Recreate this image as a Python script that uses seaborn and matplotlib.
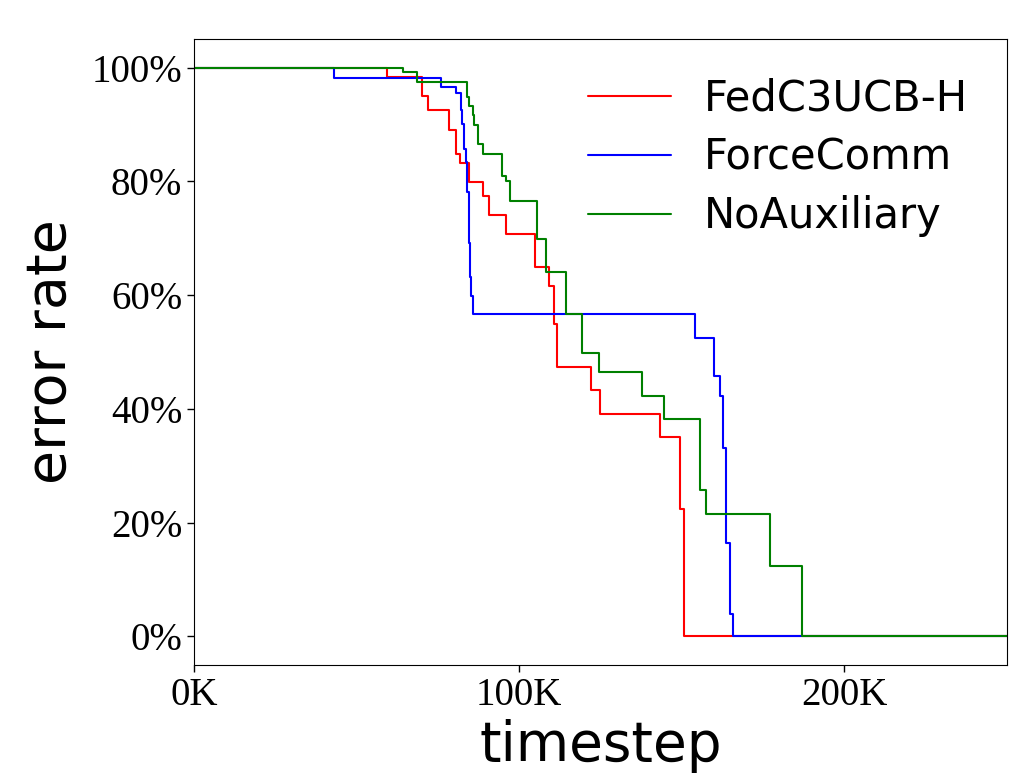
import pandas as pd
import seaborn as sns
import matplotlib.pyplot as plt
from matplotlib.ticker import FuncFormatter

# valores (timestep, taxa de erro em %)
fed_t = [0, 59200, 70000, 72000, 78500, 80500, 81900, 84400, 89000, 90800, 96000,
         104900, 109000, 110800, 111600, 122100, 124700, 143400, 149500, 150600,
         150800, 250000]
fed_err = [100, 98.3, 95.0, 92.5, 89.1, 84.9, 83.3, 79.9, 77.4, 74.1, 70.8,
           64.9, 61.6, 54.9, 47.4, 43.3, 39.1, 35.0, 22.4, 12.3, 0, 0]

force_t = [0, 43100, 76000, 80700, 82000, 82300, 83000, 83500, 83900, 84500,
           84800, 85300, 85800, 154100, 159800, 161800, 162600, 163500, 164800,
           165800, 250000]
force_err = [100, 98.2, 96.6, 95.6, 92.5, 90.1, 85.7, 83.4, 78.2, 69.1, 63.2,
             59.9, 56.6, 52.4, 45.7, 42.3, 33.2, 16.5, 4.0, 0, 0]

noaux_t = [0, 64300, 68400, 83800, 84400, 85800, 86200, 87200, 89000, 94600,
           95800, 97100, 105600, 108300, 114500, 119200, 124400, 137600, 144400,
           155500, 157300, 177000, 187100, 250000]
noaux_err = [100, 99.2, 97.4, 94.9, 93.3, 91.6, 89.9, 86.6, 84.9, 80.9, 80.0,
             76.5, 69.9, 64.1, 56.6, 49.9, 46.5, 42.3, 38.2, 25.7, 21.6, 12.3,
             0, 0]

metodos = ['FedC3UCB-H', 'ForceComm', 'NoAuxiliary']
cores = {'FedC3UCB-H': 'red', 'ForceComm': 'blue', 'NoAuxiliary': 'green'}

df = pd.concat([
    pd.DataFrame({'timestep': fed_t, 'erro': fed_err, 'metodo': metodos[0]}),
    pd.DataFrame({'timestep': force_t, 'erro': force_err, 'metodo': metodos[1]}),
    pd.DataFrame({'timestep': noaux_t, 'erro': noaux_err, 'metodo': metodos[2]}),
])

sns.set_style('ticks', {'axes.edgecolor': 'black', 'xtick.color': 'black',
                        'ytick.color': 'black', 'text.color': 'black',
                        'axes.labelcolor': 'black'})
plt.rcParams['font.family'] = ['DejaVu Sans']

fig = plt.figure(figsize=(10.27, 7.84), dpi=100)
ax = fig.add_axes([0.189, 0.152, 0.7915, 0.798])

sns.lineplot(data=df, x='timestep', y='erro', hue='metodo', hue_order=metodos,
             palette=cores, drawstyle='steps-post', linewidth=1.5,
             estimator=None, sort=False, ax=ax)

ax.set_xlim(0, 250000)
ax.set_ylim(-5, 105)
ax.set_xticks([0, 100000, 200000])
ax.set_yticks([0, 20, 40, 60, 80, 100])
ax.xaxis.set_major_formatter(FuncFormatter(lambda x, pos: f'{x/1000:.0f}K'))
ax.yaxis.set_major_formatter(FuncFormatter(lambda y, pos: f'{y:.0f}%'))
for lbl in ax.get_xticklabels() + ax.get_yticklabels():
    lbl.set_fontfamily('Liberation Serif')
    lbl.set_fontsize(28)
ax.tick_params(length=5, width=1)

ax.set_xlabel('timestep', fontsize=39.5)
ax.set_ylabel('error rate', fontsize=40, labelpad=10)

ax.legend(loc='upper right', bbox_to_anchor=(0.973, 0.965), borderaxespad=0,
          fontsize=30, labelspacing=0.4, frameon=False, title=None)

plt.savefig('out.png', dpi=100)
